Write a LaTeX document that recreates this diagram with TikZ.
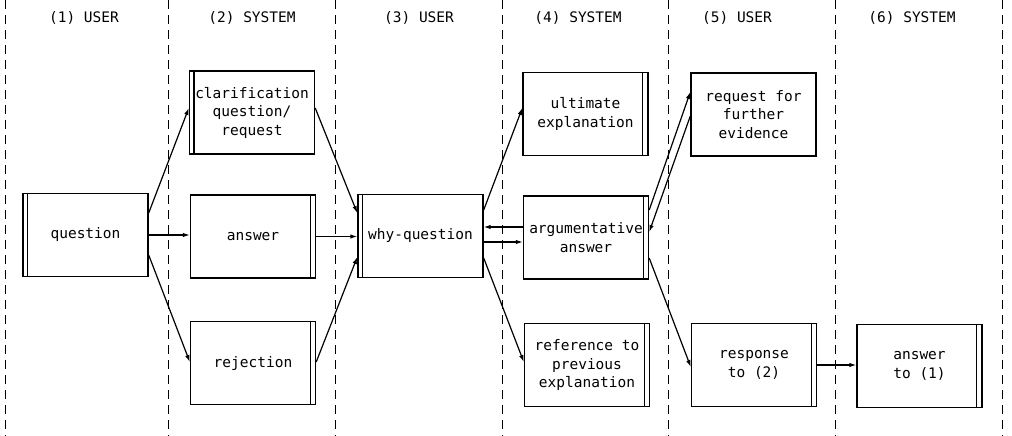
\documentclass[tikz,border=0pt]{standalone}
\usepackage{fontspec}
\newfontfamily\tw{DejaVu Sans Mono}
\usetikzlibrary{arrows.meta}
\begin{document}
\begin{tikzpicture}[x=1pt,y=-1pt,
  box/.style={draw, line width=1.4pt, minimum width=125pt, minimum height=83pt, inner sep=0pt, align=center, font=\tw\fontsize{14.5}{18.5}\selectfont},
  lane/.style={dash pattern=on 9pt off 6pt, line width=1pt},
  hdr/.style={font=\tw\fontsize{14.5}{16}\selectfont, inner sep=0pt},
  edge/.style={line width=1.4pt},
  arr/.style={-{Latex[length=7pt,width=4.5pt]}, line width=1.2pt}]
\useasboundingbox (0,0) rectangle (1012,436);
\fill[white] (0,0) rectangle (1012,436);
\foreach \x in {5,168,335,502,668,835,1002} \draw[lane] (\x,0) -- (\x,436);
\node[hdr] (h1) at (84,18) {(1) USER};
\node[hdr] (h2) at (252,18) {(2) SYSTEM};
\node[hdr] (h3) at (419,18) {(3) USER};
\node[hdr] (h4) at (578,18) {(4) SYSTEM};
\node[hdr] (h5) at (737,18) {(5) USER};
\node[hdr] (h6) at (912,18) {(6) SYSTEM};
\node[box] (q) at (85.5,235) {question};
\node[box] (clar) at (252,112.5) {clarification\\question/\\request};
\node[box] (ans) at (253,236.5) {answer};
\node[box] (rej) at (253,363) {rejection};
\node[box] (why) at (420.5,236) {why-question};
\node[box] (ult) at (585.5,114) {ultimate\\explanation};
\node[box] (arg) at (586,237.5) {argumentative\\answer};
\node[box] (ref) at (587,365) {reference to\\previous\\explanation};
\node[box] (req) at (753.5,114.5) {request for\\further\\evidence};
\node[box] (resp) at (754,365) {response\\to (2)};
\node[box] (ans1) at (919.5,366) {answer\\to (1)};
\foreach \n in {q,clar,why} \draw[edge] ([xshift=5pt]\n.north west) -- ([xshift=5pt]\n.south west);
\foreach \n in {ans,rej,ult,arg,ref,resp,ans1} \draw[edge] ([xshift=-6pt]\n.north east) -- ([xshift=-6pt]\n.south east);
\draw[arr] (q.east |- 0,213) -- (clar.west |- 0,108);
\draw[arr] (q.east) -- (ans.west |- q.east);
\draw[arr] (q.east |- 0,255) -- (rej.west |- 0,362);
\draw[arr] (clar.east |- 0,108) -- (why.west |- 0,213);
\draw[arr] (ans.east) -- (why.west |- ans.east);
\draw[arr] (rej.east |- 0,362) -- (why.west |- 0,257);
\draw[arr] (why.east |- 0,210) -- (ult.west |- 0,108);
\draw[arr] (arg.west |- 0,227) -- (why.east |- 0,227);
\draw[arr] (why.east |- 0,242) -- (arg.west |- 0,242);
\draw[arr] (why.east |- 0,258) -- (ref.west |- 0,362);
\draw[arr] (arg.east |- 0,210) -- (req.west |- 0,92);
\draw[arr] (req.west |- 0,116) -- (arg.east |- 0,232);
\draw[arr] (arg.east |- 0,258) -- (resp.west |- 0,367);
\draw[arr] (resp.east) -- (ans1.west |- resp.east);
\end{tikzpicture}
\end{document}
